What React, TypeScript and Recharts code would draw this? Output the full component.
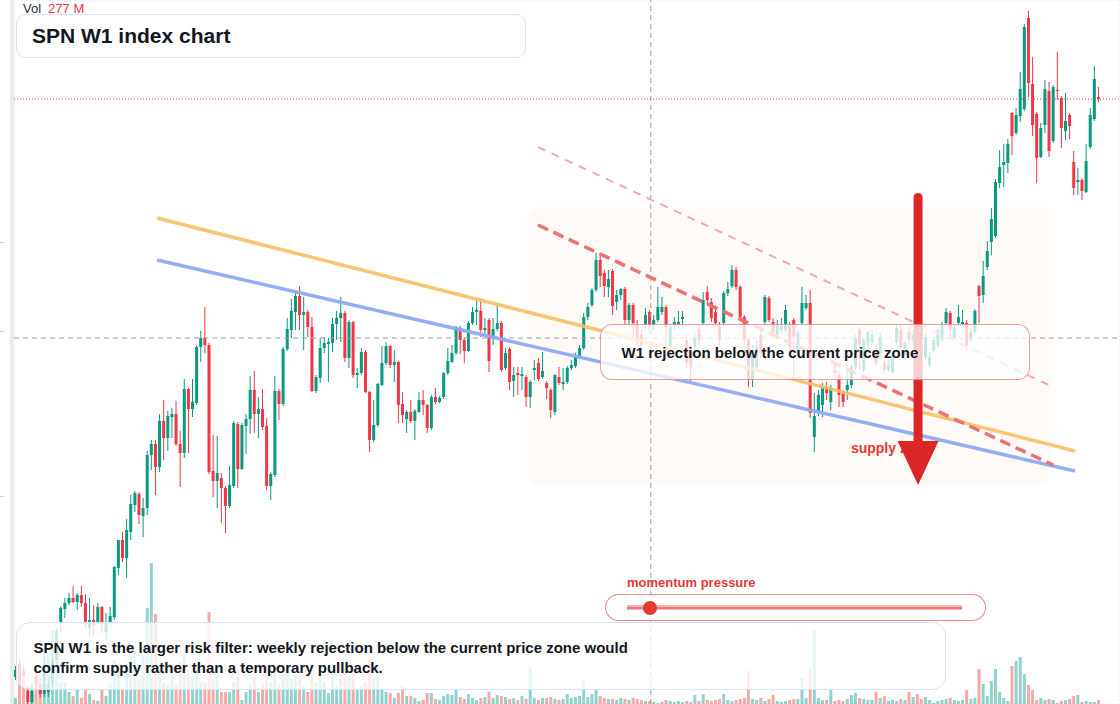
import React from 'react';
import {
  ComposedChart,
  Bar,
  XAxis,
  YAxis,
  CartesianGrid,
  ReferenceLine,
  ReferenceArea,
  ReferenceDot,
} from 'recharts';

const FONT = '"Liberation Sans", Arial, Helvetica, sans-serif';
const UP = '#089981';
const DOWN = '#f23645';

// weekly candles: [open, high, low, close]
const candles: number[][] = [
  [323,334,320,330],[336,340,316,319],[329,334,320,324],[309,312,296,298],[298,314,296,309],
  [324,330,310,316],[316,322,302,306],[306,345,303,330],[308,324,303,316],[316,350,312,340],
  [340,372,335,369],[378,394,368,392],[391,402,382,397],[397,407,395,402],[402,414,397,398],
  [398,407,390,405],[405,414,393,397],[397,406,372,378],[372,402,363,380],[380,395,363,375],
  [378,397,376,393],[393,394,367,378],[368,387,360,378],[378,393,375,384],[383,434,380,433],
  [432,460,425,460],[460,468,438,442],[442,481,422,470],[468,505,460,496],[495,509,488,507],
  [506,508,476,485],[484,502,463,492],[492,549,485,545],[545,560,530,556],[556,560,505,533],
  [533,586,528,579],[579,600,540,562],[562,589,549,584],[583,592,562,586],[586,599,554,556],
  [556,569,513,547],[547,621,542,611],[611,612,547,591],[591,621,583,598],[597,655,595,653],
  [653,669,638,662],[662,693,647,655],[655,657,526,528],[529,565,503,519],[519,564,492,527],
  [522,527,477,512],[512,514,467,494],[494,534,492,515],[514,579,512,577],[576,578,512,531],
  [531,577,530,575],[574,586,546,581],[581,624,566,610],[610,629,567,586],[586,603,562,591],
  [591,611,570,573],[574,582,510,514],[514,528,500,526],[525,624,523,609],[609,611,580,596],
  [596,653,594,651],[651,682,649,671],[670,701,662,689],[688,707,670,704],[704,714,670,685],
  [685,703,650,688],[688,690,663,673],[673,683,608,609],[609,625,607,623],[622,662,617,652],
  [652,663,647,657],[656,662,618,658],[657,682,648,676],[676,689,660,682],[682,703,658,687],
  [687,689,638,642],[642,680,632,678],[678,679,622,625],[625,632,612,627],[627,652,625,648],
  [648,650,607,608],[608,609,548,560],[560,600,558,575],[575,617,573,616],[615,654,614,637],
  [637,658,635,654],[654,655,632,635],[635,650,618,638],[638,639,577,595],[596,608,577,585],
  [581,590,567,588],[588,600,577,579],[579,591,560,589],[588,608,587,600],[600,610,585,595],
  [595,596,567,572],[572,605,570,603],[603,612,596,598],[598,604,597,602],[603,628,601,627],
  [627,652,625,639],[638,655,637,647],[647,674,645,673],[672,674,646,660],[660,662,637,649],
  [649,679,648,677],[677,693,675,688],[688,701,675,690],[689,701,663,670],[670,682,665,672],
  [680,682,628,639],[662,682,655,671],[671,697,669,677],[677,679,628,630],[632,652,630,647],
  [651,653,610,618],[619,633,603,625],[627,633,605,625],[624,633,610,626],[623,625,593,603],
  [603,620,592,618],[630,640,620,632],[637,642,619,621],[623,648,621,629],[617,619,601,612],
  [610,612,582,590],[588,626,585,625],[623,633,615,617],[616,632,610,618],[618,634,616,632],
  [632,640,630,635],[634,647,632,644],[643,655,641,652],[652,687,650,683],[683,697,680,693],
  [695,712,693,710],[710,747,708,740],[740,747,713,724],[727,730,703,714],[713,730,703,721],
  [729,731,685,694],[698,710,690,705],[705,712,700,711],[711,713,676,680],[680,697,673,695],
  [695,697,660,677],[675,680,655,658],[665,670,650,655],[675,692,672,685],[688,690,670,675],
  [675,685,670,680],[680,713,678,693],[688,703,685,693],[693,695,650,673],[653,675,650,673],
  [674,683,670,678],[675,689,672,678],[681,689,676,683],[660,665,632,637],[650,655,619,633],
  [653,667,650,662],[671,675,655,660],[677,708,674,700],[708,714,695,700],[698,702,678,682],
  [688,692,672,677],[673,678,655,660],[677,709,674,707],[707,718,704,711],[714,735,712,730],
  [730,733,710,713],[713,715,680,683],[683,685,655,660],[660,662,613,620],[620,655,613,650],
  [633,660,630,653],[665,670,642,647],[678,705,675,703],[702,704,678,680],[678,682,664,668],
  [665,680,660,675],[670,682,667,675],[670,695,667,690],[675,678,650,653],[680,682,620,663],
  [648,670,645,667],[677,713,674,697],[692,705,690,697],[697,710,582,587],[563,607,548,584],
  [587,610,584,605],[595,617,583,613],[613,618,600,607],[598,615,590,612],[630,638,622,627],
  [625,628,593,605],[606,610,593,598],[610,630,600,615],[615,635,612,633],[633,665,630,662],
  [670,672,630,655],[630,662,628,660],[655,670,652,668],[658,670,655,665],[650,655,634,637],
  [647,667,644,663],[637,642,625,630],[630,640,628,635],[628,648,626,645],[658,675,655,672],
  [670,675,650,653],[645,660,642,657],[668,672,655,660],[660,670,655,665],[667,672,655,660],
  [672,674,658,660],[643,666,640,663],[635,648,632,643],[650,663,648,660],[655,672,652,670],
  [660,678,658,675],[677,692,675,688],[687,689,662,670],[662,675,660,672],[677,695,676,683],
  [676,690,674,678],[677,680,650,655],[661,672,658,668],[668,691,666,689],[714,715,677,704],
  [705,739,697,724],[733,759,730,749],[758,792,745,781],[764,821,762,818],[817,850,812,833],
  [835,856,813,838],[837,861,827,856],[887,888,845,864],[867,892,865,885],[884,928,878,911],
  [891,976,889,973],[982,989,903,917],[916,943,864,875],[886,888,817,842],[843,877,842,872],
  [875,920,867,911],[909,918,843,849],[859,915,857,913],[910,948,900,909],[902,904,852,872],
  [869,907,860,879],[885,887,861,874],[838,849,805,812],[818,832,805,820],[820,822,800,809],
  [808,856,807,839],[853,892,851,885],[881,934,879,921],[903,913,898,901],
];

// weekly volume, millions
const volumes: number[] = [
  420,2590,1750,1260,1470,1960,1050,3640,3570,5180,
  3990,1540,1540,840,560,1190,420,980,700,280,
  210,980,560,1400,3080,2870,980,2870,3640,3780,
  1750,3430,6720,9870,6300,2380,1470,1330,2380,1400,
  2940,3570,2100,1960,2450,1540,1470,6440,1680,2100,
  840,840,840,1540,1960,280,840,1400,1890,840,
  1400,2520,1540,2590,1400,2100,2450,1820,2100,2100,
  1260,840,2800,1540,1890,1540,770,2100,1260,2100,
  2520,1960,2310,980,1260,1540,3080,1820,2100,1190,
  840,770,420,770,1260,560,560,420,210,280,
  770,770,350,280,560,700,630,1120,490,350,
  700,420,280,420,490,840,420,630,560,490,
  350,420,280,560,350,2590,420,280,420,420,
  490,350,280,350,700,420,490,560,1610,490,
  700,980,560,420,350,350,280,420,350,280,
  420,350,280,210,210,140,70,140,280,210,
  140,210,140,210,140,630,210,700,280,210,
  280,350,700,280,210,280,350,420,2310,350,
  280,420,210,350,630,210,140,210,280,350,
  350,1820,420,2450,5180,420,280,280,1190,210,
  280,210,350,630,770,420,350,280,280,840,
  420,560,210,280,210,350,280,840,490,700,
  350,490,280,70,210,280,350,420,280,210,
  280,980,350,420,2450,1400,560,1610,2450,840,
  420,210,2660,3010,3290,2100,1330,980,280,420,
  280,350,280,70,210,280,350,560,630,140,
  210,140,140,277,
];

const priceGridTicks = [316, 359.6, 403.2, 446.8, 490.4, 534, 577.6, 621.2, 664.8, 708.4, 752, 795.6, 839.2, 882.8, 926.4, 970];
const timeGridTicks = [23.4, 49.7, 75.9, 102.1, 128.3, 154.5, 180.7, 207.0, 233.2, 259.4];
const xDomain = [-0.243, 268.34];
const priceDomain = [296, 1000];
const volumeDomain = [0, 49300];

const lastPrice = 901;
const crosshairIndex = 154.4;
const crosshairPrice = 662;

const orangeTrend = [{ x: 34.5, y: 782 }, { x: 257.4, y: 549 }];
const blueTrend = [{ x: 34.5, y: 740 }, { x: 257.4, y: 529 }];
const supplyDash = [{ x: 127.0, y: 775 }, { x: 252.1, y: 535 }];
const upperDash = [{ x: 127.0, y: 853 }, { x: 252.1, y: 613 }];
const zone = { x1: 124.3, x2: 251.8, y1: 515, y2: 793 };
const arrowShaft = [{ x: 219.3, y: 802.5 }, { x: 219.3, y: 556 }];
const arrowHead = { x: 219.3, y: 559 };
const supplyLabel = { x: 203.0, y: 547, text: 'supply zone' };

const titleText = 'SPN W1 index chart';
const volLabel = 'Vol';
const volValue = '277 M';
const calloutText = 'W1 rejection below the current price zone';
const noteLines = [
  'SPN W1 is the larger risk filter: weekly rejection below the current price zone would',
  'confirm supply rather than a temporary pullback.',
];
const gaugeLabel = 'momentum pressure';

const rows = candles.map((c, i) => ({
  i,
  open: c[0],
  high: c[1],
  low: c[2],
  close: c[3],
  vol: volumes[i],
}));

function CandleShape(props: any) {
  const { x, y, width, height, payload } = props;
  if (!payload || x == null || y == null) return null;
  const { open, close, high, low } = payload;
  const top = Math.min(y, y + height);
  const h = Math.abs(height);
  const span = high - low || 1;
  const py = (v: number) => top + ((high - v) / span) * h;
  const up = close >= open;
  const color = up ? UP : DOWN;
  const cx = x + width / 2;
  const bTop = py(Math.max(open, close));
  const bBot = py(Math.min(open, close));
  return (
    <g>
      <line x1={cx} x2={cx} y1={top} y2={top + h} stroke={color} strokeWidth={1} />
      <rect x={x} y={bTop} width={width} height={Math.max(1, bBot - bTop)} fill={color} />
    </g>
  );
}

function VolumeShape(props: any) {
  const { x, y, width, height, payload } = props;
  if (!payload || x == null || y == null) return null;
  const up = payload.close >= payload.open;
  return (
    <rect
      x={x}
      y={Math.min(y, y + height)}
      width={width}
      height={Math.abs(height)}
      fill={up ? '#26a69a' : '#ef5350'}
      fillOpacity={0.5}
    />
  );
}

const SupplyText = (p: any) => (
  <text x={p.cx} y={p.cy} fill="#e53935" fontFamily={FONT} fontWeight={700} fontSize={14}>
    {supplyLabel.text}
  </text>
);

const ArrowHeadShape = (p: any) => (
  <path d={`M ${p.cx - 20.5} ${p.cy} L ${p.cx + 20.5} ${p.cy} L ${p.cx} ${p.cy + 44} Z`} fill="#dc2626" />
);

export default function App() {
  return (
    <div
      style={{
        position: 'absolute',
        left: 0,
        top: 0,
        width: 1120,
        height: 704,
        background: '#ffffff',
        overflow: 'hidden',
        fontFamily: FONT,
      }}
    >
      <div style={{ position: 'absolute', left: 0, top: 0 }}>
        <ComposedChart width={1120} height={704} data={rows} margin={{ top: 0, right: 0, bottom: 0, left: 14 }}>
          <XAxis
            dataKey="i"
            type="number"
            domain={xDomain}
            ticks={timeGridTicks}
            allowDataOverflow
            height={0}
            tick={false}
            axisLine={false}
            tickLine={false}
          />
          <XAxis xAxisId="v" dataKey="i" type="number" domain={xDomain} allowDataOverflow hide />
          <YAxis
            type="number"
            domain={priceDomain}
            ticks={priceGridTicks}
            allowDataOverflow
            width={0}
            tick={false}
            axisLine={false}
            tickLine={false}
          />
          <YAxis yAxisId="v" type="number" domain={volumeDomain} allowDataOverflow hide />
          <CartesianGrid stroke="#d2d2d2" strokeDasharray="1 3" />
          <ReferenceArea
            x1={zone.x1}
            x2={zone.x2}
            y1={zone.y1}
            y2={zone.y2}
            fill="#f4dcc8"
            fillOpacity={0.13}
            stroke="none"
            radius={12}
          />
          <Bar
            xAxisId="v"
            yAxisId="v"
            dataKey="vol"
            barSize={3}
            isAnimationActive={false}
            shape={VolumeShape}
          />
          <Bar
            dataKey={(d: any) => [d.low, d.high]}
            barSize={3}
            isAnimationActive={false}
            shape={CandleShape}
          />
          <ReferenceLine y={crosshairPrice} stroke="#9a9ea6" strokeDasharray="5 4" />
          <ReferenceLine x={crosshairIndex} stroke="#9a9ea6" strokeDasharray="5 4" />
          <ReferenceLine y={lastPrice} stroke="#f23645" strokeDasharray="1 2" />
          <ReferenceLine segment={upperDash} stroke="#f3a9a9" strokeWidth={2} strokeDasharray="8 7" />
          <ReferenceLine segment={orangeTrend} stroke="#f8bf63" strokeWidth={3.5} strokeOpacity={0.9} />
          <ReferenceLine segment={blueTrend} stroke="#8eaaf6" strokeWidth={3.5} strokeOpacity={0.95} />
          <ReferenceLine segment={supplyDash} stroke="#ec7171" strokeWidth={3.5} strokeDasharray="11 6" />
          <ReferenceLine segment={arrowShaft} stroke="#dc2626" strokeWidth={9} strokeLinecap="round" />
          <ReferenceDot x={supplyLabel.x} y={supplyLabel.y} r={1} shape={SupplyText} />
          <ReferenceDot x={arrowHead.x} y={arrowHead.y} r={1} shape={ArrowHeadShape} />
        </ComposedChart>
      </div>

      {/* left price-scale edge */}
      <div style={{ position: 'absolute', left: 10, top: 0, width: 4, height: 704, background: '#ebebeb' }} />
      {[242, 331, 496].map((t) => (
        <div key={t} style={{ position: 'absolute', left: 0, top: t, width: 4, height: 1, background: '#d0d0d0' }} />
      ))}

      {/* volume legend */}
      <div style={{ position: 'absolute', left: 23, top: 1, fontSize: 13, lineHeight: '16px', whiteSpace: 'nowrap' }}>
        <span style={{ color: '#2a2e39' }}>{volLabel}</span>
        <span style={{ color: '#f23645', marginLeft: 7 }}>{volValue}</span>
      </div>

      {/* title */}
      <div
        style={{
          position: 'absolute',
          left: 16,
          top: 14,
          width: 510,
          height: 44,
          boxSizing: 'border-box',
          border: '1.5px solid #d6e3fa',
          borderRadius: 10,
          background: '#ffffff',
          paddingLeft: 15,
          display: 'flex',
          alignItems: 'center',
          fontSize: 21,
          fontWeight: 700,
          color: '#131722',
          whiteSpace: 'nowrap',
        }}
      >
        {titleText}
      </div>

      {/* callout */}
      <div
        style={{
          position: 'absolute',
          left: 600,
          top: 324,
          width: 430,
          height: 56,
          boxSizing: 'border-box',
          border: '1.5px solid rgba(232,90,90,0.6)',
          borderRadius: 12,
          background: 'rgba(255,255,255,0.77)',
          paddingLeft: 20.5,
          display: 'flex',
          alignItems: 'center',
          fontSize: 15,
          fontWeight: 700,
          color: '#131722',
          whiteSpace: 'nowrap',
        }}
      >
        {calloutText}
      </div>

      {/* momentum gauge */}
      <div
        style={{
          position: 'absolute',
          left: 627,
          top: 575,
          fontSize: 13,
          lineHeight: '16px',
          fontWeight: 700,
          color: '#e53935',
          whiteSpace: 'nowrap',
        }}
      >
        {gaugeLabel}
      </div>
      <div
        style={{
          position: 'absolute',
          left: 605,
          top: 594,
          width: 381,
          height: 27,
          boxSizing: 'border-box',
          border: '1.5px solid rgba(229,57,53,0.6)',
          borderRadius: 14,
          background: 'rgba(255,255,255,0.85)',
        }}
      >
        <div style={{ position: 'absolute', left: 20.5, top: 10, width: 335, height: 5, background: '#f5b3b3' }} />
        <div style={{ position: 'absolute', left: 20.5, top: 11.5, width: 335, height: 2, background: '#e77b7b' }} />
        <div
          style={{
            position: 'absolute',
            left: 36.5,
            top: 5.5,
            width: 14,
            height: 14,
            borderRadius: 7,
            background: '#e53935',
          }}
        />
      </div>

      {/* bottom note */}
      <div
        style={{
          position: 'absolute',
          left: 16,
          top: 622,
          width: 930,
          height: 68,
          boxSizing: 'border-box',
          border: '1.5px solid #d6e3fa',
          borderRadius: 14,
          background: 'rgba(255,255,255,0.78)',
        }}
      >
        {noteLines.map((line, k) => (
          <div
            key={k}
            style={{
              position: 'absolute',
              left: 16.5,
              top: 14.5 + k * 20,
              fontSize: 15,
              lineHeight: '20px',
              fontWeight: 700,
              color: '#131722',
              whiteSpace: 'nowrap',
            }}
          >
            {line}
          </div>
        ))}
      </div>
    </div>
  );
}
